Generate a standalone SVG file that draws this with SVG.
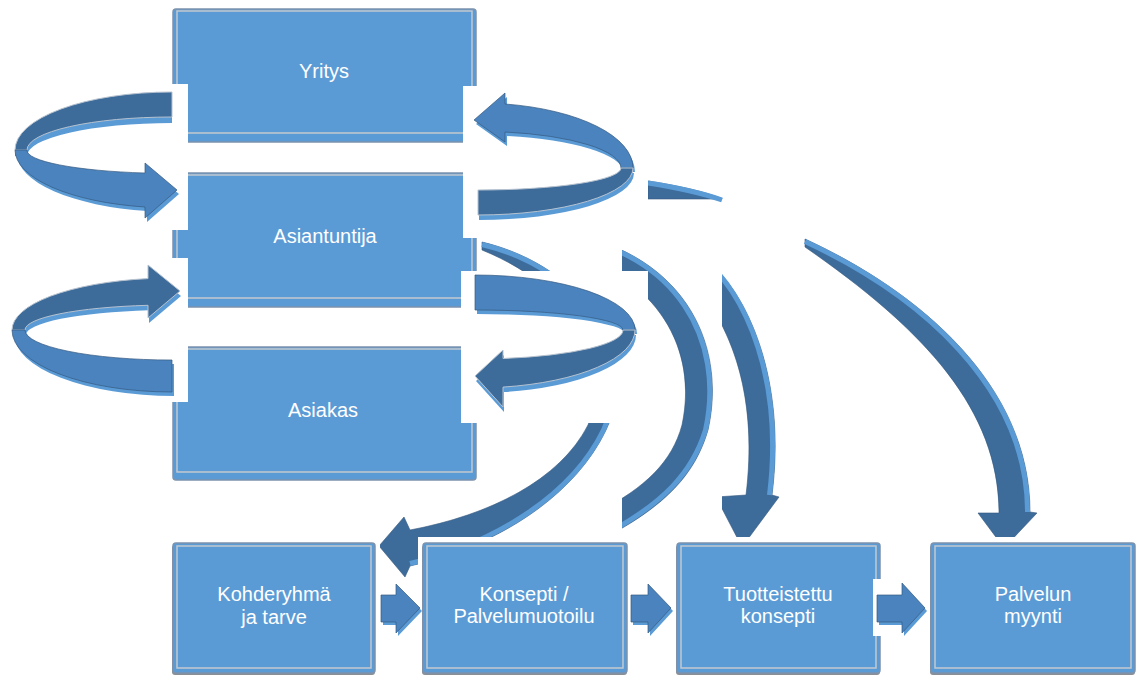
<svg xmlns="http://www.w3.org/2000/svg" width="1137" height="675" viewBox="0 0 1137 675">
<style>
.box{fill:#5b9bd5;stroke:#7d93ad;stroke-width:1.5}
.inner{fill:none;stroke:#c4c9cf;stroke-width:1.5}
.shadow{fill:#8a8f96}
.lbl{font-family:"Liberation Sans",Arial,sans-serif;font-size:20px;fill:#ffffff;text-anchor:middle}
.front{fill:#4a83be;stroke:#35597f;stroke-width:0.7}
.back{fill:#3d6c9b;stroke:#b7c2cf;stroke-width:1}
.edge{fill:#5b9bd5}
.body{fill:#3d6c9b;stroke:#35597f;stroke-width:0.6}
.rim{fill:none;stroke:#5b9bd5;stroke-width:5}
.mask{fill:#ffffff}
</style>
<rect width="1137" height="675" fill="#ffffff"/>

<g id="yritys">
<rect class="box" x="173" y="9" width="303" height="133" rx="3"/>
<rect class="inner" x="177" y="11" width="295" height="122"/>
<text class="lbl" x="324" y="78">Yritys</text>
</g>
<g id="asiantuntija">
<rect class="box" x="173" y="173" width="303" height="134" rx="3"/>
<rect class="inner" x="177" y="175" width="295" height="123"/>
<text class="lbl" x="325" y="243">Asiantuntija</text>
</g>
<g id="asiakas">
<rect class="box" x="173" y="347" width="303" height="133" rx="3"/>
<rect class="inner" x="177" y="349" width="295" height="123"/>
<text class="lbl" x="323" y="417">Asiakas</text>
</g>

<g id="connectors">
<!-- to Palvelun myynti -->
<path class="body" d="M805,239 C920,292 1030,385 1030,512 L1037,513 L1004,548 L978,513 L999,513 C999,410 925,330 805,247 Z"/>
<path class="rim" d="M805,241.5 C918,294 1027.5,386 1027.5,512"/>
<!-- to Tuotteistettu konsepti -->
<path class="body" d="M695,250 C752,290 786,385 772,495 L779,497 L742,547 L716,497 L746,495 C757,405 738,325 680,268 Z"/>
<path class="rim" d="M695,252 C750,292 783,385 769.5,495"/>
<rect class="mask" x="640" y="199" width="82" height="346"/>
<path class="body" d="M648,181 C680,186 702,191 722,198.5 L722,199 L648,199 Z"/>
<path class="rim" d="M648,183 C680,188 702,193 722,200" stroke-width="3"/>
<!-- to Konsepti (mostly hidden) -->
<path class="body" d="M560,232 C680,250 728,340 708,430 C695,475 665,505 610,535 L598,512 C645,488 672,462 682,425 C698,350 660,278 560,248 Z"/>
<path class="rim" d="M560,234.5 C678,252 725,341 705.5,430 C692,474 662,503 610,532"/>
<rect class="mask" x="477" y="199" width="145" height="341"/>
<!-- to Kohderyhmä -->
<path class="body" d="M482,242 C590,268 640,360 606,430 C575,495 500,545 410,566 L405,577 L379,546 L404,517 L410,530 C490,515 560,480 588,425 C610,370 585,292 482,250 Z"/>
<path class="rim" d="M482,244.5 C588,270 637,360 603.5,430 C573,493 499,542 410,563.5"/>
<!-- Asiantuntija -> Asiakas -->
<rect class="mask" x="461" y="271" width="187" height="152"/>
<path class="edge" transform="translate(2,4)" d="M475,275 A160,55 0 0 1 635,330 L623,330 A148,20 0 0 0 475,310 Z"/>
<path class="front" d="M475,275 A160,55 0 0 1 635,330 L623,330 A148,20 0 0 0 475,310 Z"/>
<path class="edge" transform="translate(1,5)" d="M635,330 A160,58 0 0 1 503,387.1 L503,407 L475,376 L503,350 L503,358.5 A148,29 0 0 0 623,330 Z"/>
<path class="back" d="M635,330 A160,58 0 0 1 503,387.1 L503,407 L475,376 L503,350 L503,358.5 A148,29 0 0 0 623,330 Z" stroke="#35597f" stroke-width="0.7"/>
<!-- Asiantuntija -> Yritys -->
<rect class="mask" x="463" y="86" width="185" height="152"/>
<path class="edge" transform="translate(2,4)" d="M633,168 A155,65 0 0 0 505,104 L505,93 L474,120 L505,142 L505,132 A143,37 0 0 1 621,168 Z"/>
<path class="front" d="M633,168 A155,65 0 0 0 505,104 L505,93 L474,120 L505,142 L505,132 A143,37 0 0 1 621,168 Z"/>
<path class="edge" transform="translate(1,5)" d="M633,168 A155,47 0 0 1 478,215 L478,190 A143,22 0 0 0 621,168 Z"/>
<path class="back" d="M633,168 A155,47 0 0 1 478,215 L478,190 A143,22 0 0 0 621,168 Z"/>
<!-- Yritys -> Asiantuntija -->
<rect class="mask" x="0" y="84" width="188" height="146"/>
<path class="edge" transform="translate(0,6)" d="M172,92 A157,58 0 0 0 15,150 L27,150 A145,33 0 0 1 172,117 Z"/>
<path class="back" d="M172,92 A157,58 0 0 0 15,150 L27,150 A145,33 0 0 1 172,117 Z"/>
<path class="edge" transform="translate(2,4)" d="M15,150 A157,58 0 0 0 145,207 L145,218 L177,190 L145,163 L145,173 A145,23 0 0 1 27,150 Z"/>
<path class="front" d="M15,150 A157,58 0 0 0 145,207 L145,218 L177,190 L145,163 L145,173 A145,23 0 0 1 27,150 Z"/>
<!-- Asiakas -> Asiantuntija -->
<rect class="mask" x="0" y="258" width="188" height="144"/>
<path class="edge" transform="translate(1,5)" d="M12,330 A160,52 0 0 1 148,278.6 L148,265 L180,291 L148,318 L148,305.3 A147,25 0 0 0 25,330 Z"/>
<path class="back" d="M12,330 A160,52 0 0 1 148,278.6 L148,265 L180,291 L148,318 L148,305.3 A147,25 0 0 0 25,330 Z" stroke="#35597f" stroke-width="0.7"/>
<path class="edge" transform="translate(2,4)" d="M12,330 A160,62 0 0 0 172,392 L172,360 A147,30 0 0 1 25,330 Z"/>
<path class="front" d="M12,330 A160,62 0 0 0 172,392 L172,360 A147,30 0 0 1 25,330 Z"/>
</g>

<g id="kohderyhma">
<rect class="mask" x="168" y="537" width="212" height="138"/>
<rect class="shadow" x="172" y="545" width="203" height="130" rx="3"/>
<rect class="box" x="173" y="543" width="202" height="130" rx="3"/>
<rect class="inner" x="177" y="546" width="194" height="122"/>
<text class="lbl" x="274" y="601">Kohderyhmä</text>
<text class="lbl" x="274" y="624">ja tarve</text>
</g>
<g id="konsepti">
<rect class="mask" x="418" y="537" width="214" height="138"/>
<rect class="shadow" x="422" y="545" width="205" height="130" rx="3"/>
<rect class="box" x="423" y="543" width="204" height="130" rx="3"/>
<rect class="inner" x="427" y="546" width="196" height="122"/>
<text class="lbl" x="524" y="601">Konsepti /</text>
<text class="lbl" x="524" y="623">Palvelumuotoilu</text>
</g>
<g id="tuotteistettu">
<rect class="mask" x="672" y="537" width="213" height="138"/>
<rect class="shadow" x="676" y="545" width="204" height="130" rx="3"/>
<rect class="box" x="677" y="543" width="203" height="130" rx="3"/>
<rect class="inner" x="681" y="546" width="195" height="122"/>
<text class="lbl" x="778" y="601">Tuotteistettu</text>
<text class="lbl" x="778" y="623">konsepti</text>
</g>
<g id="palvelun">
<rect class="mask" x="926" y="537" width="211" height="138"/>
<rect class="shadow" x="930" y="545" width="205" height="130" rx="3"/>
<rect class="box" x="931" y="543" width="204" height="130" rx="3"/>
<rect class="inner" x="935" y="546" width="196" height="122"/>
<text class="lbl" x="1033" y="601">Palvelun</text>
<text class="lbl" x="1033" y="623">myynti</text>
</g>

<g id="flow-arrows">
<rect class="mask" x="377" y="579" width="44" height="57"/>
<path class="edge" transform="translate(2,3)" d="M381,595 L396,595 L396,584 L420,608 L396,633 L396,622 L381,622 Z"/>
<path class="front" d="M381,595 L396,595 L396,584 L420,608 L396,633 L396,622 L381,622 Z"/>
<rect class="mask" x="629" y="579" width="44" height="57"/>
<path class="edge" transform="translate(2,3)" d="M631,595 L648,595 L648,584 L671,608 L648,633 L648,622 L631,622 Z"/>
<path class="front" d="M631,595 L648,595 L648,584 L671,608 L648,633 L648,622 L631,622 Z"/>
<rect class="mask" x="873" y="579" width="54" height="57"/>
<path class="edge" transform="translate(2,3)" d="M877,595 L902,595 L902,583 L925,608 L902,633 L902,622 L877,622 Z"/>
<path class="front" d="M877,595 L902,595 L902,583 L925,608 L902,633 L902,622 L877,622 Z"/>
</g>
</svg>
